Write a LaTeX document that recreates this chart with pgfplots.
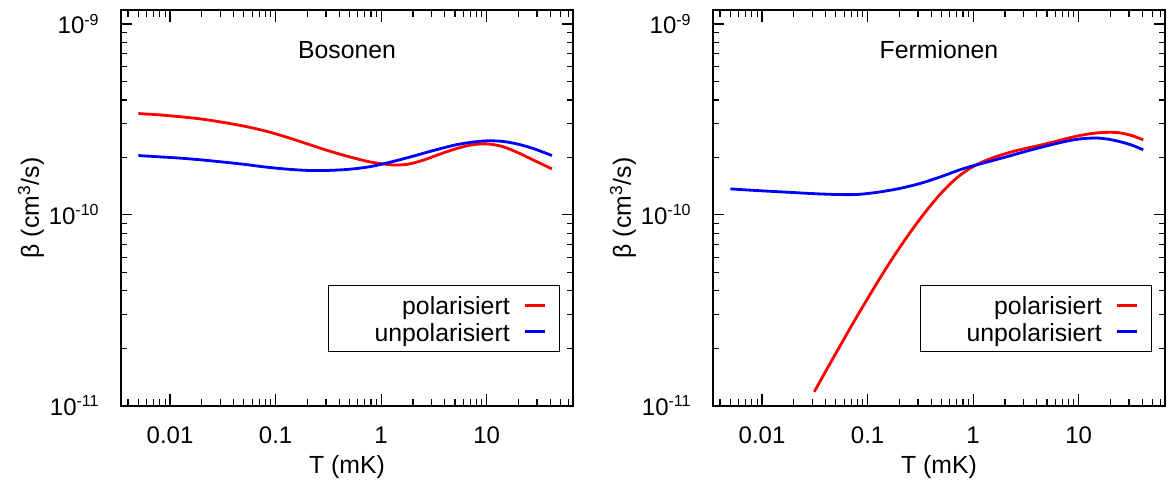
\documentclass[border=0pt]{standalone}
\usepackage{fontspec}
\setmainfont{Liberation Sans}
\usepackage{pgfplots}
\pgfplotsset{compat=1.18}
\tikzset{
 redl/.style={red, line width=1.4pt, smooth},
 bluel/.style={blue, line width=1.4pt, smooth},
}
\begin{document}
\begin{tikzpicture}
\begin{axis}[
  scale only axis, width=226.3pt, height=197.85pt,
  xmode=log, ymode=log,
  xmin=0.00341, xmax=66.1, ymin=1e-11, ymax=1.184e-9,
  xtick={0.01,0.1,1,10}, xticklabels={0.01,0.1,1,10},
  minor xtick={0.004,0.005,0.006,0.007,0.008,0.009,0.02,0.03,0.04,0.05,0.06,0.07,0.08,0.09,0.2,0.3,0.4,0.5,0.6,0.7,0.8,0.9,2,3,4,5,6,7,8,9,20,30,40,50,60},
  ytick={1e-11,1e-10,1e-9},
  yticklabels={10\textsuperscript{-11},10\textsuperscript{-10},10\textsuperscript{-9}},
  minor ytick={2e-11,3e-11,4e-11,5e-11,6e-11,7e-11,8e-11,9e-11,2e-10,3e-10,4e-10,5e-10,6e-10,7e-10,8e-10,9e-10},
  tick align=inside,
  major tick length=5.8pt, minor tick length=3.3pt,
  tick style={black, line width=0.6pt},
  axis line style={line width=1pt},
  xticklabel style={font=\fontsize{12}{14}\selectfont, inner sep=0pt, anchor=north, yshift=-10.5pt},
  yticklabel style={font=\fontsize{12}{14}\selectfont, inner sep=0pt, anchor=east, xshift=-10.35pt},
  xlabel={T (mK)}, ylabel={β (cm\textsuperscript{3}/s)},
  xlabel style={at={(axis description cs:0.5,-0.156)}, anchor=center, font=\fontsize{12.4}{14}\selectfont, inner sep=0pt},
  ylabel style={at={(axis description cs:-0.198,0.5)}, anchor=center, font=\fontsize{12.4}{14}\selectfont, inner sep=0pt},
  legend plot pos=right,
  legend image code/.code={\draw[#1] (0pt,0pt) -- (10.3pt,0pt);},
  legend style={at={(0.9706,0.1365)}, anchor=south east, draw=black, line width=0.5pt,
    inner xsep=6.35pt, inner ysep=5pt, row sep=3.95pt, column sep=6.85pt,
    nodes={inner sep=0pt, text height=9.4pt, text depth=0pt, font=\fontsize{12.4}{14}\selectfont},
    cells={anchor=center}},
]
\addplot[redl] coordinates {
(0.005012,3.396e-10) (0.007943,3.342e-10) (0.01259,3.266e-10) (0.01995,3.177e-10)
(0.03162,3.055e-10) (0.05012,2.917e-10) (0.07943,2.754e-10) (0.1259,2.559e-10)
(0.1995,2.355e-10) (0.3162,2.168e-10) (0.5012,2.014e-10) (0.7943,1.892e-10)
(1.259,1.828e-10) (1.778,1.841e-10) (2.512,1.936e-10) (3.548,2.075e-10)
(5.012,2.213e-10) (7.079,2.323e-10) (10,2.355e-10) (14.13,2.28e-10)
(19.95,2.113e-10) (28.18,1.928e-10) (41.5,1.742e-10)};
\addlegendentry{\makebox[84.35pt][r]{polarisiert}}
\addplot[bluel] coordinates {
(0.005012,2.046e-10) (0.007943,2.014e-10) (0.01259,1.982e-10) (0.01995,1.941e-10)
(0.03162,1.892e-10) (0.05012,1.841e-10) (0.07943,1.782e-10) (0.1259,1.738e-10)
(0.1995,1.710e-10) (0.3162,1.710e-10) (0.5012,1.734e-10) (0.7943,1.791e-10)
(1.259,1.897e-10) (1.995,2.028e-10) (3.162,2.178e-10) (5.012,2.323e-10)
(7.079,2.399e-10) (10,2.443e-10) (14.13,2.427e-10) (19.95,2.344e-10)
(28.18,2.218e-10) (41.5,2.046e-10)};
\addlegendentry{\makebox[84.35pt][r]{unpolarisiert}}
\node[anchor=base, font=\fontsize{12.4}{14}\selectfont] at (rel axis cs:0.5,0.878) {Bosonen};
\end{axis}
\begin{axis}[at={(296pt,0pt)},
  scale only axis, width=226.3pt, height=197.85pt,
  xmode=log, ymode=log,
  xmin=0.00341, xmax=66.1, ymin=1e-11, ymax=1.184e-9,
  xtick={0.01,0.1,1,10}, xticklabels={0.01,0.1,1,10},
  minor xtick={0.004,0.005,0.006,0.007,0.008,0.009,0.02,0.03,0.04,0.05,0.06,0.07,0.08,0.09,0.2,0.3,0.4,0.5,0.6,0.7,0.8,0.9,2,3,4,5,6,7,8,9,20,30,40,50,60},
  ytick={1e-11,1e-10,1e-9},
  yticklabels={10\textsuperscript{-11},10\textsuperscript{-10},10\textsuperscript{-9}},
  minor ytick={2e-11,3e-11,4e-11,5e-11,6e-11,7e-11,8e-11,9e-11,2e-10,3e-10,4e-10,5e-10,6e-10,7e-10,8e-10,9e-10},
  tick align=inside,
  major tick length=5.8pt, minor tick length=3.3pt,
  tick style={black, line width=0.6pt},
  axis line style={line width=1pt},
  xticklabel style={font=\fontsize{12}{14}\selectfont, inner sep=0pt, anchor=north, yshift=-10.5pt},
  yticklabel style={font=\fontsize{12}{14}\selectfont, inner sep=0pt, anchor=east, xshift=-10.35pt},
  xlabel={T (mK)}, ylabel={β (cm\textsuperscript{3}/s)},
  xlabel style={at={(axis description cs:0.5,-0.156)}, anchor=center, font=\fontsize{12.4}{14}\selectfont, inner sep=0pt},
  ylabel style={at={(axis description cs:-0.198,0.5)}, anchor=center, font=\fontsize{12.4}{14}\selectfont, inner sep=0pt},
  legend plot pos=right,
  legend image code/.code={\draw[#1] (0pt,0pt) -- (10.3pt,0pt);},
  legend style={at={(0.9706,0.1365)}, anchor=south east, draw=black, line width=0.5pt,
    inner xsep=6.35pt, inner ysep=5pt, row sep=3.95pt, column sep=6.85pt,
    nodes={inner sep=0pt, text height=9.4pt, text depth=0pt, font=\fontsize{12.4}{14}\selectfont},
    cells={anchor=center}},
]
\addplot[redl] coordinates {
(0.03126,1.183e-11) (0.04169,1.574e-11) (0.05559,2.084e-11) (0.07413,2.754e-11)
(0.09886,3.606e-11) (0.1318,4.688e-11) (0.1758,6.026e-11) (0.2344,7.621e-11)
(0.3126,9.484e-11) (0.4169,1.161e-10) (0.5559,1.387e-10) (0.7413,1.603e-10)
(0.9886,1.786e-10) (1.318,1.928e-10) (1.758,2.042e-10) (2.344,2.143e-10)
(3.126,2.228e-10) (4.169,2.307e-10) (5.559,2.399e-10) (7.413,2.500e-10)
(9.886,2.594e-10) (13.18,2.667e-10) (17.58,2.704e-10) (23.44,2.698e-10)
(31.26,2.612e-10) (40.8,2.472e-10)};
\addlegendentry{\makebox[84.35pt][r]{polarisiert}}
\addplot[bluel] coordinates {
(0.005012,1.368e-10) (0.007943,1.346e-10) (0.01259,1.327e-10) (0.01995,1.309e-10)
(0.03162,1.291e-10) (0.05012,1.279e-10) (0.07943,1.279e-10) (0.1259,1.315e-10)
(0.1995,1.374e-10) (0.3162,1.462e-10) (0.5012,1.589e-10) (0.7943,1.742e-10)
(1.259,1.871e-10) (1.995,2.004e-10) (3.162,2.153e-10) (5.012,2.301e-10)
(7.943,2.443e-10) (11.22,2.512e-10) (15.85,2.523e-10) (22.39,2.449e-10)
(31.62,2.323e-10) (40.8,2.193e-10)};
\addlegendentry{\makebox[84.35pt][r]{unpolarisiert}}
\node[anchor=base, font=\fontsize{12.4}{14}\selectfont] at (rel axis cs:0.5,0.878) {Fermionen};
\end{axis}
\pgfresetboundingbox
\path[use as bounding box] (-60.35pt,-40.15pt) rectangle (523.65pt,202.85pt);
\end{tikzpicture}
\end{document}
